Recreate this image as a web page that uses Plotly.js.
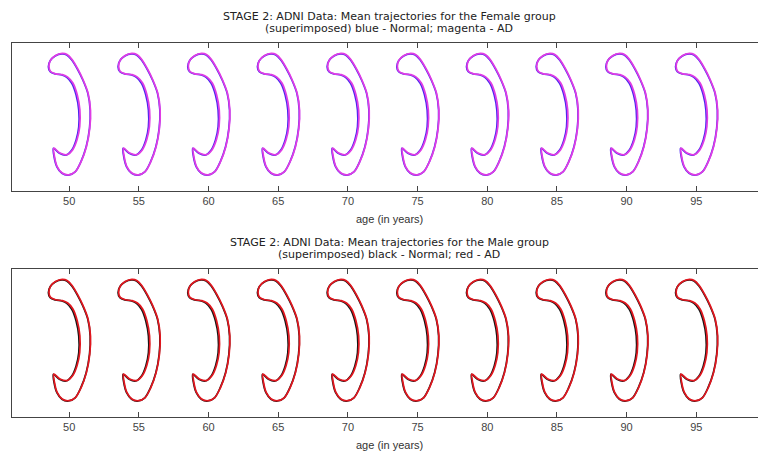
<!DOCTYPE html>
<html>
<head>
<meta charset="utf-8">
<script src="https://cdn.plot.ly/plotly-3.0.1.min.js"></script>
<style>
  html, body { margin: 0; padding: 0; overflow: hidden; background: #fff; }
  #chart { width: 780px; height: 458px; }
</style>
</head>
<body>
<div id="chart"></div>
<script>
// Ages at which the mean outlines are drawn
const ages = [50, 55, 60, 65, 70, 75, 80, 85, 90, 95];
const tickLabels = ['50', '55', '60', '65', '70', '75', '80', '85', '90', '95'];

// Mean outline (offset from age in years, vertical position 0..1) – Normal group
const normalDX = [-0.52, -1.00, -1.36, -1.49, -1.36, -1.00, -0.52, -0.17, 0.19, 0.50, 0.69, 0.69, 0.50, 0.19, -0.22, -0.70, -1.13, -1.08, -0.88, -0.52, -0.05, 0.43, 0.84, 1.22, 1.46, 1.51, 1.34, 0.98, 0.60, 0.19, -0.17, -0.52];
const normalY  = [0.926, 0.912, 0.880, 0.840, 0.806, 0.791, 0.784, 0.768, 0.728, 0.649, 0.547, 0.434, 0.345, 0.277, 0.243, 0.255, 0.289, 0.232, 0.164, 0.120, 0.108, 0.130, 0.198, 0.299, 0.424, 0.547, 0.660, 0.750, 0.822, 0.885, 0.919, 0.926];

// Mean outline – AD group (slightly thinner body)
const adDX = [-0.50, -0.98, -1.33, -1.45, -1.33, -0.97, -0.48, -0.10, 0.27, 0.58, 0.77, 0.76, 0.57, 0.26, -0.16, -0.66, -1.10, -1.05, -0.86, -0.50, -0.03, 0.45, 0.86, 1.24, 1.48, 1.53, 1.36, 1.00, 0.62, 0.21, -0.15, -0.50];
const adY  = [0.930, 0.916, 0.884, 0.843, 0.808, 0.792, 0.786, 0.770, 0.730, 0.650, 0.548, 0.436, 0.348, 0.280, 0.246, 0.257, 0.290, 0.233, 0.166, 0.122, 0.110, 0.131, 0.199, 0.300, 0.425, 0.548, 0.661, 0.752, 0.825, 0.889, 0.923, 0.930];

function build(dx, dy) {
  const xs = [], ys = [];
  ages.forEach(a => {
    dx.forEach((d, i) => { xs.push(a + d); ys.push(dy[i]); });
    xs.push(null); ys.push(null);
  });
  return {x: xs, y: ys};
}

const nF = build(normalDX, normalY), aF = build(adDX, adY);
const nM = build(normalDX, normalY), aM = build(adDX, adY);

const lineStyle = (c) => ({color: c, width: 1.7, shape: 'spline', smoothing: 0.9});

const traces = [
  {x: nF.x, y: nF.y, xaxis: 'x', yaxis: 'y', mode: 'lines', line: lineStyle('#4a26f0'), connectgaps: false, hoverinfo: 'skip', name: 'Normal'},
  {x: aF.x, y: aF.y, xaxis: 'x', yaxis: 'y', mode: 'lines', line: lineStyle('#e03ce4'), connectgaps: false, hoverinfo: 'skip', name: 'AD'},
  {x: nM.x, y: nM.y, xaxis: 'x2', yaxis: 'y2', mode: 'lines', line: lineStyle('#151515'), connectgaps: false, hoverinfo: 'skip', name: 'Normal'},
  {x: aM.x, y: aM.y, xaxis: 'x2', yaxis: 'y2', mode: 'lines', line: lineStyle('#e2161e'), connectgaps: false, hoverinfo: 'skip', name: 'AD'}
];

const axisCommon = {
  range: [45.9, 100],
  showline: true, mirror: 'ticks', linecolor: '#444', linewidth: 1,
  ticks: 'inside', ticklen: 5, tickcolor: '#444', tickwidth: 1,
  tickvals: ages, ticktext: tickLabels,
  tickfont: {family: 'Liberation Sans, Arial, sans-serif', size: 11, color: '#444'},
  showgrid: false, zeroline: false, fixedrange: true
};
const yCommon = {
  range: [0, 1], showline: true, mirror: true, linecolor: '#444', linewidth: 1,
  ticks: '', showticklabels: false, showgrid: false, zeroline: false, fixedrange: true
};

const titleFont = {family: 'DejaVu Sans, sans-serif', size: 11, color: '#222'};
const labelFont = {family: 'Liberation Sans, Arial, sans-serif', size: 11, color: '#333'};
const ann = (text, y, f) => ({text: text, xref: 'paper', yref: 'paper', x: 0.5, y: y, xanchor: 'center', yanchor: 'middle', showarrow: false, font: f});
const py = (pix) => (417 - pix) / 374;

const layout = {
  width: 780, height: 458,
  margin: {l: 12, r: 14, t: 43, b: 41},
  paper_bgcolor: '#fff', plot_bgcolor: '#fff',
  showlegend: false,
  xaxis: Object.assign({}, axisCommon, {anchor: 'y', domain: [0, 1]}),
  yaxis: Object.assign({}, yCommon, {anchor: 'x', domain: [0.604, 1]}),
  xaxis2: Object.assign({}, axisCommon, {anchor: 'y2', domain: [0, 1]}),
  yaxis2: Object.assign({}, yCommon, {anchor: 'x2', domain: [0, 0.3957]}),
  annotations: [
    ann('STAGE 2: ADNI Data: Mean trajectories for the Female group', py(16.5), titleFont),
    ann('(superimposed) blue - Normal; magenta - AD', py(28.5), titleFont),
    ann('age (in years)', py(219), labelFont),
    ann('STAGE 2: ADNI Data: Mean trajectories for the Male group', py(242.5), titleFont),
    ann('(superimposed) black - Normal; red - AD', py(254.5), titleFont),
    ann('age (in years)', py(445), labelFont)
  ]
};

Plotly.newPlot('chart', traces, layout, {displayModeBar: false, staticPlot: true});
</script>
</body>
</html>
